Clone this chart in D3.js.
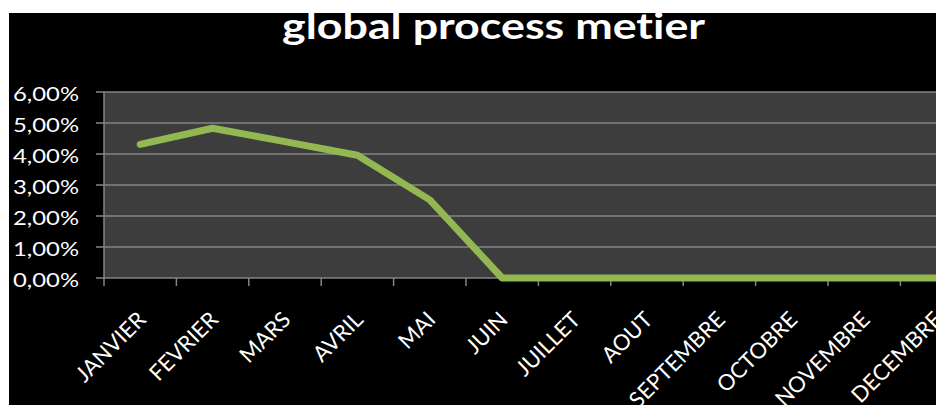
<!DOCTYPE html>
<html>
<head>
<meta charset="utf-8">
<script src="https://cdn.jsdelivr.net/npm/d3@7"></script>
<style>
  body { margin: 0; background: #fff; }
  svg { display: block; }
  text { font-variant-ligatures: none; }
</style>
</head>
<body>
<div class="container"></div>
<script>
/* globals d3 */

// data
const months = ['JANVIER', 'FEVRIER', 'MARS', 'AVRIL', 'MAI', 'JUIN', 'JUILLET',
  'AOUT', 'SEPTEMBRE', 'OCTOBRE', 'NOVEMBRE', 'DECEMBRE']
const rates = [0.0431, 0.0483, 0.0440, 0.0396, 0.0252, 0, 0, 0, 0, 0, 0, 0]
const yTicks = [0, 0.01, 0.02, 0.03, 0.04, 0.05, 0.06]
const title = 'global process metier'

;(function () {
  var width = 936
  var height = 405
  var plot = { left: 104, top: 92, bottom: 278, step: 72.4 }
  var font = 'Lato, "Open Sans", sans-serif'

  var fr = d3.formatLocale({ decimal: ',', thousands: ' ', grouping: [3], currency: ['', '€'] })
  var pct = fr.format('.2%')

  var svg = d3.select('.container')
              .append('svg')
              .attr('width', width)
              .attr('height', height)

  // black chart area
  svg.append('rect')
     .attr('x', 9).attr('y', 13)
     .attr('width', width - 9).attr('height', height - 13)
     .attr('fill', '#000')

  var x = d3.scaleBand()
            .domain(months)
            .range([plot.left, plot.left + months.length * plot.step])
  var y = d3.scaleLinear().domain([0, 0.06]).range([plot.bottom, plot.top])

  // plot area
  svg.append('rect')
     .attr('x', plot.left).attr('y', plot.top)
     .attr('width', x.range()[1] - plot.left)
     .attr('height', plot.bottom - plot.top)
     .attr('fill', '#3d3d3d')

  // gridlines
  svg.append('g')
     .selectAll('line')
     .data(yTicks)
     .join('line')
     .attr('x1', plot.left - 8).attr('x2', x.range()[1])
     .attr('y1', function (d) { return y(d) })
     .attr('y2', function (d) { return y(d) })
     .attr('stroke', '#858585')
     .attr('stroke-width', 1.5)

  // left axis line
  svg.append('line')
     .attr('x1', plot.left).attr('x2', plot.left)
     .attr('y1', plot.top).attr('y2', plot.bottom + 8)
     .attr('stroke', '#858585')
     .attr('stroke-width', 1.5)

  // y labels (the source picture is stretched sideways, so widen them)
  svg.append('g')
     .selectAll('text')
     .data(yTicks)
     .join('text')
     .attr('x', 79)
     .attr('y', function (d) { return y(d) + 1.5 })
     .attr('text-anchor', 'end')
     .attr('dominant-baseline', 'central')
     .attr('textLength', 66)
     .attr('lengthAdjust', 'spacingAndGlyphs')
     .attr('fill', '#fff')
     .style('font-family', font)
     .style('font-size', '19px')
     .text(function (d) { return pct(d) })

  // x ticks between categories
  svg.append('g')
     .selectAll('line')
     .data(months)
     .join('line')
     .attr('x1', function (d) { return x(d) + x.bandwidth() })
     .attr('x2', function (d) { return x(d) + x.bandwidth() })
     .attr('y1', plot.bottom).attr('y2', plot.bottom + 8)
     .attr('stroke', '#858585')
     .attr('stroke-width', 1.5)

  // x labels, rotated
  svg.append('g')
     .selectAll('text')
     .data(months)
     .join('text')
     .attr('transform', function (d) {
       return 'translate(' + (x(d) + x.bandwidth() / 2 + 7) + ',321) rotate(-45)'
     })
     .attr('text-anchor', 'end')
     .attr('fill', '#fff')
     .style('font-family', font)
     .style('font-size', '22px')
     .text(function (d) { return d })

  // the series line
  var valueline = d3.line()
                    .x(function (d, i) { return x(months[i]) + x.bandwidth() / 2 })
                    .y(function (d) { return y(d) })
  svg.append('path')
     .attr('d', valueline(rates))
     .attr('fill', 'none')
     .attr('stroke', '#93b852')
     .attr('stroke-width', 7)
     .attr('stroke-linecap', 'round')
     .attr('stroke-linejoin', 'round')

  // title
  svg.append('text')
     .attr('x', 282)
     .attr('y', 39)
     .attr('fill', '#fff')
     .attr('textLength', 423)
     .attr('lengthAdjust', 'spacingAndGlyphs')
     .style('font-family', font)
     .style('font-weight', 'bold')
     .style('font-size', '37px')
     .text(title)
}())
</script>
</body>
</html>
